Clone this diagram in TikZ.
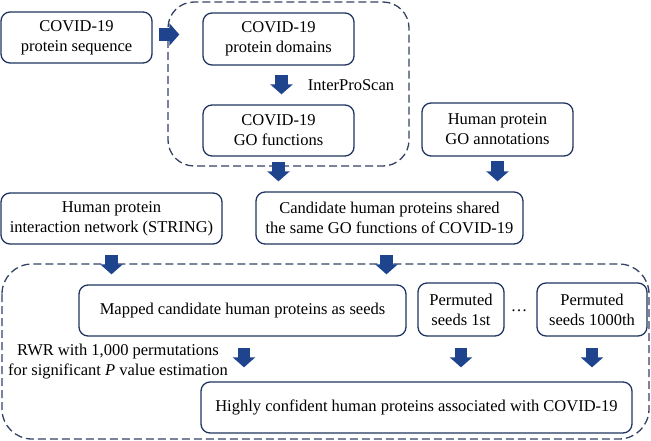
\documentclass[tikz,border=0pt]{standalone}
\usepackage{fontspec}
\setmainfont{Liberation Serif}
\usepackage{xcolor}
\usetikzlibrary{arrows.meta}

\definecolor{boxnavy}{RGB}{32,52,96}
\definecolor{framenavy}{RGB}{52,66,100}
\definecolor{arrowblue}{RGB}{30,68,142}

\tikzset{
    procbox/.style = {draw = boxnavy, line width = 1.3pt, rounded corners = 9pt, align = center,
                      inner sep = 0pt, font = \fontsize{16.5}{20}\selectfont},
    dashframe/.style = {draw = framenavy, line width = 1.3pt, dash pattern = on 8pt off 4pt},
    blockarrow/.style = {draw = arrowblue, line width = 12.5pt, -{Triangle[width = 22pt, length = 10pt]}, arrowblue},
    plainlabel/.style = {align = center, inner sep = 0pt, font = \fontsize{16.5}{20}\selectfont}
}

\begin{document}
\begin{tikzpicture}[x = 1pt, y = -1pt]

    \useasboundingbox (0,0) rectangle (651,441);

    \draw [dashframe, rounded corners = 26pt] (168,2) rectangle (409,166);
    \draw [dashframe, rounded corners = 30pt] (2,264) rectangle (649,439);

    \node [procbox, minimum width = 151pt, minimum height = 51pt] (seq) at (76.5,37.5) {COVID-19\\protein sequence};
    \node [procbox, minimum width = 151pt, minimum height = 52pt] (dom) at (278.5,39) {COVID-19\\protein domains};
    \node [procbox, minimum width = 151pt, minimum height = 51pt] (gof) at (278.5,130.5) {COVID-19\\GO functions};
    \node [procbox, minimum width = 151pt, minimum height = 53pt] (anno) at (497.5,129.5) {Human protein\\GO annotations};
    \node [procbox, minimum width = 221pt, minimum height = 51pt] (net) at (111.5,218.5) {Human protein\\interaction network (STRING)};
    \node [procbox, minimum width = 267pt, minimum height = 52pt] (cand) at (389.5,218) {Candidate human proteins shared\\the same GO functions of COVID-19};
    \node [procbox, minimum width = 327pt, minimum height = 51pt] (map) at (242.5,310.5) {Mapped candidate human proteins as seeds};
    \node [procbox, minimum width = 86pt, minimum height = 53pt] (permA) at (461,309.5) {Permuted\\seeds 1st};
    \node [procbox, minimum width = 110pt, minimum height = 53pt] (permB) at (592,309.5) {Permuted\\seeds 1000th};
    \node [procbox, minimum width = 431pt, minimum height = 51pt] (conf) at (416.5,407.5) {Highly confident human proteins associated with COVID-19};

    \node [plainlabel] (dots) at (519,311) {\dots};
    \node [plainlabel] (ips) at (351,85) {InterProScan};
    \node [plainlabel] (rwr) at (118,361.5) {RWR with 1,000 permutations\\for significant \textit{P} value estimation};

    \draw [blockarrow, shorten <= 6pt, shorten >= 23pt] ([yshift = 3pt]seq.east) -- ([yshift = 3pt]seq.east -| dom.west);
    \draw [blockarrow, shorten <= 9pt, shorten >= 10pt] ([xshift = 3pt]dom.south) -- ([xshift = 3pt]gof.north);
    \draw [blockarrow, shorten <= 5pt, shorten >= 10pt] (gof.south) -- (gof.south |- cand.north);
    \draw [blockarrow, shorten <= 4pt, shorten >= 10pt] (anno.south) -- (anno.south |- cand.north);
    \draw [blockarrow, shorten <= 10pt, shorten >= 10pt] (net.south) -- (net.south |- map.north);
    \draw [blockarrow, shorten <= 10pt, shorten >= 10pt] ([xshift = -3pt]cand.south) -- ([xshift = -3pt]cand.south |- map.north);
    \draw [blockarrow, shorten <= 11pt, shorten >= 14pt] ([xshift = 1.5pt]map.south) -- ([xshift = 1.5pt]map.south |- conf.north);
    \draw [blockarrow, shorten <= 11pt, shorten >= 14pt] (permA.south) -- (permA.south |- conf.north);
    \draw [blockarrow, shorten <= 11pt, shorten >= 14pt] (permB.south) -- (permB.south |- conf.north);

\end{tikzpicture}
\end{document}
